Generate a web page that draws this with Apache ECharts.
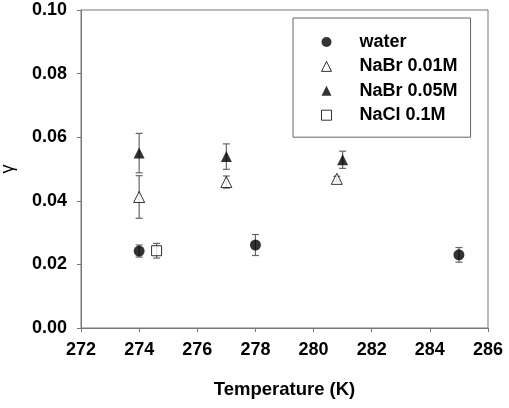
<!DOCTYPE html>
<html>
<head>
<meta charset="utf-8">
<script src="https://cdn.jsdelivr.net/npm/echarts@6/dist/echarts.min.js"></script>
<style>
  html, body { margin: 0; padding: 0; background: #fff; }
  #chart { width: 509px; height: 408px; }
</style>
</head>
<body>
<div id="chart"></div>
<script>
// temperature (K), gamma, error
const waterT = [274, 278, 285]
const waterY = [0.0242, 0.0261, 0.0230]
const waterE = [0.0019, 0.0033, 0.0023]

const nabr01T = [274, 277, 280.8]
const nabr01Y = [0.0412, 0.0459, 0.0469]
const nabr01E = [0.0067, 0.0019, 0.0008]

const nabr05T = [274, 277, 281]
const nabr05Y = [0.0550, 0.0539, 0.0529]
const nabr05E = [0.0062, 0.0040, 0.0027]

const naclT = [274.6]
const naclY = [0.0243]
const naclE = [0.0023]

const xTicks = [272, 274, 276, 278, 280, 282, 284, 286]
const yTicks = [0, 0.02, 0.04, 0.06, 0.08, 0.10]

const font = 'Liberation Sans, Arial, sans-serif'

const pts = (t, y) => t.map((v, i) => [v, y[i]])
const errs = (t, y, e) => t.map((v, i) => [v, y[i] - e[i], y[i] + e[i]])

// error bars with caps
const errSeries = (name, data) => ({
  name: name + ' err',
  type: 'custom',
  data: data,
  z: 1,
  renderItem: (params, api) => {
    const lo = api.coord([api.value(0), api.value(1)])
    const hi = api.coord([api.value(0), api.value(2)])
    const w = 3.5
    const style = { stroke: '#666', lineWidth: 1.2 }
    return {
      type: 'group',
      children: [
        { type: 'line', shape: { x1: lo[0], y1: lo[1], x2: hi[0], y2: hi[1] }, style },
        { type: 'line', shape: { x1: lo[0] - w, y1: lo[1], x2: lo[0] + w, y2: lo[1] }, style },
        { type: 'line', shape: { x1: hi[0] - w, y1: hi[1], x2: hi[0] + w, y2: hi[1] }, style }
      ]
    }
  }
})

const chart = echarts.init(document.getElementById('chart'))

chart.setOption({
  animation: false,
  grid: {
    left: 81, right: 21, top: 10, bottom: 80,
    outerBoundsMode: 'none',
    show: true, borderColor: '#777', borderWidth: 1
  },
  legend: {
    orient: 'vertical',
    left: 293, top: 18,
    padding: [14, 13, 12, 28],
    backgroundColor: '#fff',
    borderColor: '#666',
    borderWidth: 1,
    itemWidth: 10, itemHeight: 10,
    itemGap: 4.4,
    textStyle: {
      fontFamily: font, fontSize: 18, lineHeight: 20, fontWeight: 'bold', color: '#000',
      padding: [0, 0, 0, 23]
    },
    data: [
      { name: 'water', icon: 'circle', itemStyle: { color: '#000' } },
      { name: 'NaBr 0.01M', icon: 'path://M5,1L9,9L1,9Z', itemStyle: { color: '#fff', borderColor: '#000', borderWidth: 1 } },
      { name: 'NaBr 0.05M', icon: 'path://M5,1L9,9L1,9Z', itemStyle: { color: '#000' } },
      { name: 'NaCl 0.1M', icon: 'path://M1,1L9,1L9,9L1,9Z', itemStyle: { color: '#fff', borderColor: '#000', borderWidth: 1 } }
    ]
  },
  xAxis: {
    type: 'value',
    min: 272, max: 286, interval: 2,
    name: 'Temperature (K)',
    nameLocation: 'middle',
    nameGap: 52,
    nameTextStyle: { fontFamily: font, fontSize: 18.5, fontWeight: 'bold', color: '#000' },
    axisLine: { lineStyle: { color: '#777' } },
    axisTick: { inside: false, length: 4, lineStyle: { color: '#777' } },
    axisLabel: {
      fontFamily: font, fontSize: 18, fontWeight: 'bold', color: '#000', margin: 13,
      formatter: v => xTicks.includes(v) ? String(v) : ''
    },
    splitLine: { show: false }
  },
  yAxis: {
    type: 'value',
    min: 0, max: 0.1, interval: 0.02,
    name: 'γ',
    nameLocation: 'middle',
    nameGap: 64,
    nameTextStyle: { fontFamily: font, fontSize: 18, color: '#000' },
    axisLine: { show: true, lineStyle: { color: '#777' } },
    axisTick: { show: true, length: 4, lineStyle: { color: '#777' } },
    axisLabel: {
      fontFamily: font, fontSize: 18, fontWeight: 'bold', color: '#000', margin: 14,
      formatter: v => yTicks.some(t => Math.abs(t - v) < 1e-9) ? v.toFixed(2) : ''
    },
    splitLine: { show: false }
  },
  series: [
    errSeries('water', errs(waterT, waterY, waterE)),
    errSeries('NaBr 0.01M', errs(nabr01T, nabr01Y, nabr01E)),
    errSeries('NaBr 0.05M', errs(nabr05T, nabr05Y, nabr05E)),
    errSeries('NaCl 0.1M', errs(naclT, naclY, naclE)),
    {
      name: 'water', type: 'scatter', z: 3,
      symbol: 'circle', symbolSize: 11,
      itemStyle: { color: '#000' },
      data: pts(waterT, waterY)
    },
    {
      name: 'NaBr 0.01M', type: 'scatter', z: 3,
      symbol: 'triangle', symbolSize: 11,
      itemStyle: { color: '#fff', borderColor: '#000', borderWidth: 1 },
      data: pts(nabr01T, nabr01Y)
    },
    {
      name: 'NaBr 0.05M', type: 'scatter', z: 3,
      symbol: 'triangle', symbolSize: 11,
      itemStyle: { color: '#000' },
      data: pts(nabr05T, nabr05Y)
    },
    {
      name: 'NaCl 0.1M', type: 'scatter', z: 3,
      symbol: 'rect', symbolSize: 10,
      itemStyle: { color: '#fff', borderColor: '#000', borderWidth: 1 },
      data: pts(naclT, naclY)
    }
  ]
})
</script>
</body>
</html>
